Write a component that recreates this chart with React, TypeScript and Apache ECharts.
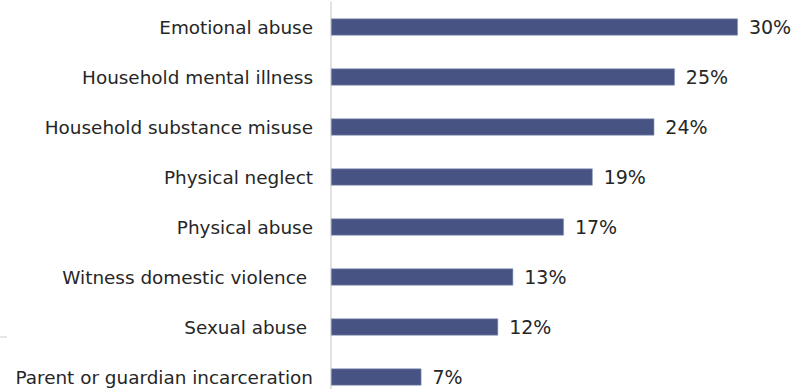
import React, { useEffect, useRef } from "react";
import * as echarts from "echarts";

const categories = [
  "Emotional abuse",
  "Household mental illness",
  "Household substance misuse",
  "Physical neglect",
  "Physical abuse",
  "Witness domestic violence ",
  "Sexual abuse ",
  "Parent or guardian incarceration",
];
const values = [29.7, 25.1, 23.6, 19.1, 17.0, 13.3, 12.2, 6.6];

export default function App() {
  const ref = useRef<HTMLDivElement>(null);
  useEffect(() => {
    const chart = echarts.init(ref.current!, undefined, { renderer: "svg" });
    chart.setOption({
      animation: false,
      grid: { left: 331, right: 0.5, top: 2, bottom: 0, containLabel: false },
      xAxis: {
        type: "value",
        min: 0,
        max: 35,
        show: false,
      },
      yAxis: {
        type: "category",
        inverse: true,
        data: categories,
        axisLine: { show: true, lineStyle: { color: "#d9d9d9", width: 1.5 } },
        axisTick: { show: false },
        axisLabel: {
          margin: 18,
          fontFamily: "DejaVu Sans",
          fontSize: 18.4,
          color: "#262626",
        },
      },
      series: [
        {
          type: "bar",
          data: values,
          barWidth: 17,
          itemStyle: { color: "#465383", borderColor: "#8e9ac0", borderWidth: 0.6 },
          label: {
            show: true,
            position: "right",
            distance: 11,
            fontFamily: "DejaVu Sans",
            fontSize: 19,
            color: "#262626",
            formatter: (p: any) => Math.round(p.value) + "%",
          },
        },
      ],
      graphic: [
        {
          type: "rect",
          shape: { x: 0, y: 336, width: 7, height: 2 },
          style: { fill: "#e6e6e6" },
        },
      ],
    });
    return () => chart.dispose();
  }, []);
  return (
    <div style={{ width: 811, height: 389, position: "absolute", left: 0, top: 0, overflow: "hidden" }}>
      <div ref={ref} style={{ width: 811, height: 402 }} />
    </div>
  );
}
